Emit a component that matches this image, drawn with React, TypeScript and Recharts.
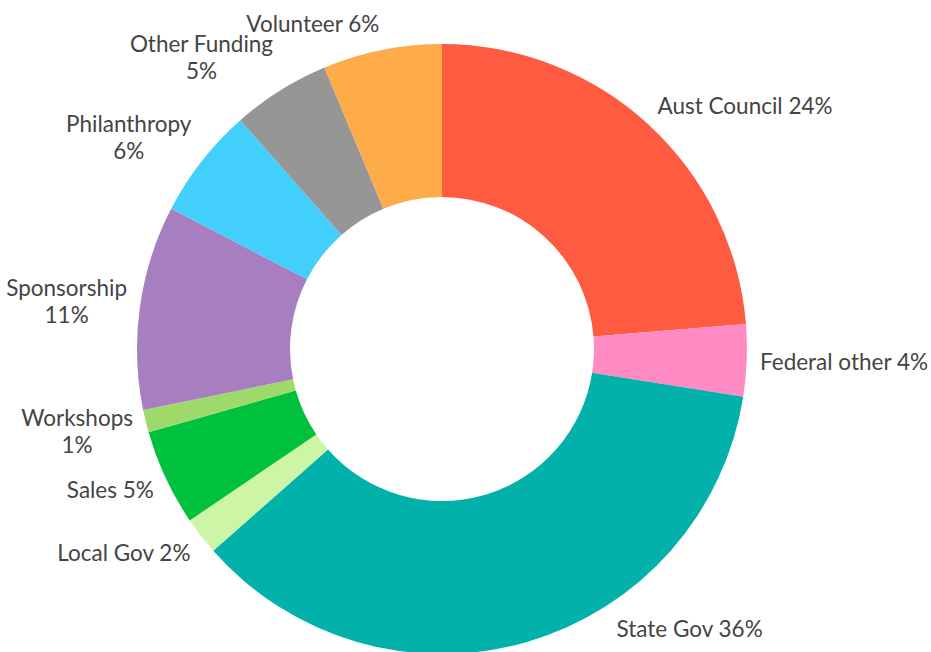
import { PieChart, Pie, Cell } from "recharts";

const names = [
  "Aust Council", "Federal other", "State Gov", "Local Gov", "Sales",
  "Workshops", "Sponsorship", "Philanthropy", "Other Funding", "Volunteer",
];
const shares = [23.7, 3.8, 36.0, 2.0, 5.1, 1.2, 10.8, 5.9, 5.2, 6.3];
// labels that put the percentage on a second line
const wrapped = [false, false, false, false, false, true, true, true, true, false];
const colors = [
  "#FE5B40", "#FF8AC4", "#02B2AA", "#CCF5A6", "#00C13B",
  "#9FD96B", "#A77FC0", "#43CFFB", "#969696", "#FEAB4A",
];

const data = names.map((name, i) => ({ name, value: shares[i] }));

const W = 931;
const H = 652;
const FONT = "Lato, 'Open Sans', sans-serif";
const FS = 22.5;
const LH = 27;
const RAD = Math.PI / 180;

let ctx: CanvasRenderingContext2D | null = null;
function measure(s: string) {
  if (!ctx) ctx = document.createElement("canvas").getContext("2d");
  if (!ctx) return s.length * FS * 0.5;
  ctx.font = `${FS}px ${FONT}`;
  return ctx.measureText(s).width;
}

function renderLabel(props: any) {
  const { cx, cy, midAngle, outerRadius, index } = props;
  const pct = `${Math.round(shares[index])}%`;
  const lines = wrapped[index] ? [names[index], pct] : [`${names[index]} ${pct}`];
  const w = Math.max(...lines.map(measure));
  const h = lines.length * LH;
  const R = outerRadius + 13;
  const cos = Math.cos(-midAngle * RAD);
  const sin = Math.sin(-midAngle * RAD);
  let px = cx + R * cos;
  const py = cy + R * sin;
  let top = py + (sin * h) / 2 - h / 2;
  const maxTop = H - h - 10;
  if (top > maxTop) {
    // slide along the circle to keep the label inside
    top = maxTop;
    const dy = top - cy;
    px = cx + Math.sign(cos) * Math.sqrt(R * R - dy * dy);
  }
  const left = cos >= 0 ? px : px - w;
  const mid = left + w / 2;
  return (
    <text
      key={`lbl-${index}`}
      textAnchor="middle"
      fill="#444"
      fontSize={FS}
      fontFamily={FONT}
    >
      {lines.map((ln, i) => (
        <tspan key={i} x={mid} y={top + LH * i + LH / 2} dominantBaseline="central">
          {ln}
        </tspan>
      ))}
    </text>
  );
}

export default function App() {
  return (
    <div style={{ position: "absolute", left: 0, top: 0, width: W, height: H, background: "#fff" }}>
      <PieChart width={W} height={H} margin={{ top: 0, right: 0, bottom: 0, left: 0 }}>
        <Pie
          data={data}
          dataKey="value"
          nameKey="name"
          cx={442}
          cy={349}
          innerRadius={152}
          outerRadius={305}
          startAngle={90}
          endAngle={-270}
          stroke="none"
          label={renderLabel}
          labelLine={false}
          isAnimationActive={false}
        >
          {data.map((d, i) => (
            <Cell key={d.name} fill={colors[i]} />
          ))}
        </Pie>
      </PieChart>
    </div>
  );
}
